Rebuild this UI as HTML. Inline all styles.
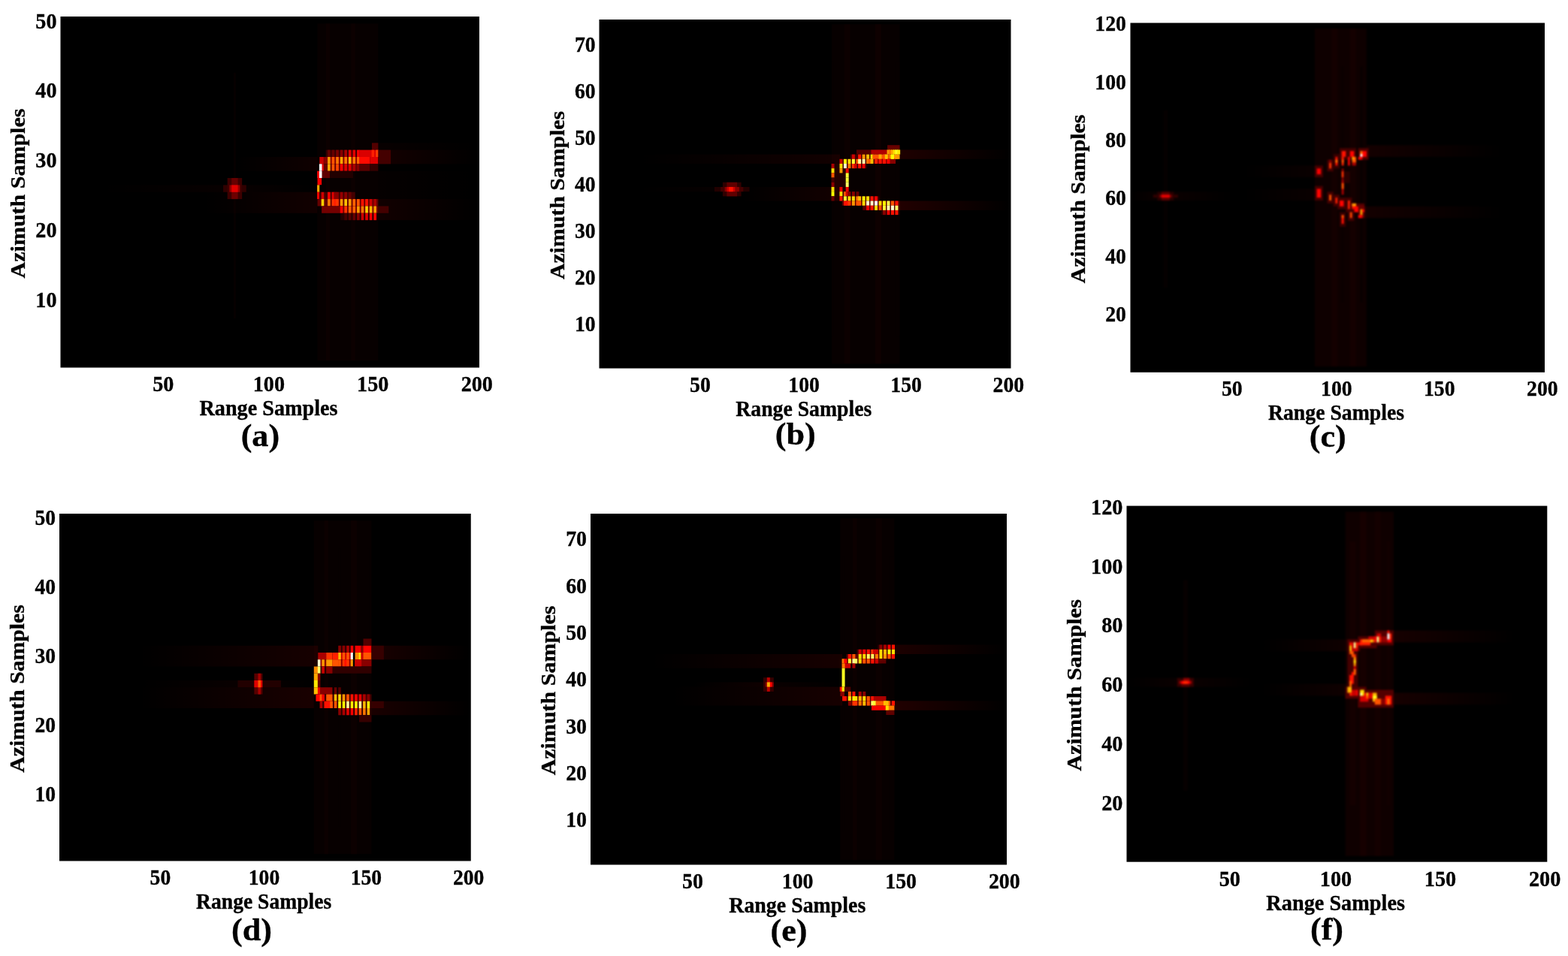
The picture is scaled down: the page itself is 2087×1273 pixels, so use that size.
<!DOCTYPE html>
<html lang="en"><head><meta charset="utf-8"><title>Figure</title>
<style>
html,body{margin:0;padding:0;background:#fff;}
body{width:2087px;height:1273px;overflow:hidden;}
svg{display:block;}
text{font-family:"Liberation Serif", "DejaVu Serif", serif;font-weight:bold;fill:#000;stroke:#000;stroke-width:0.35px;}
.p{font-size:42.5px;}
</style></head><body>
<svg width="2087" height="1273" viewBox="0 0 2087 1273">
<defs><filter id="soft-a" x="-3%" y="-3%" width="106%" height="106%"><feGaussianBlur stdDeviation="0.75" color-interpolation-filters="sRGB"/></filter><filter id="soft-b" x="-3%" y="-3%" width="106%" height="106%"><feGaussianBlur stdDeviation="0.7" color-interpolation-filters="sRGB"/></filter><filter id="soft-c" x="-3%" y="-3%" width="106%" height="106%"><feGaussianBlur stdDeviation="0.95" color-interpolation-filters="sRGB"/></filter><filter id="soft-d" x="-3%" y="-3%" width="106%" height="106%"><feGaussianBlur stdDeviation="0.75" color-interpolation-filters="sRGB"/></filter><filter id="soft-e" x="-3%" y="-3%" width="106%" height="106%"><feGaussianBlur stdDeviation="0.7" color-interpolation-filters="sRGB"/></filter><filter id="soft-f" x="-3%" y="-3%" width="106%" height="106%"><feGaussianBlur stdDeviation="0.9" color-interpolation-filters="sRGB"/></filter><linearGradient id="fadeL" x1="0" y1="0" x2="1" y2="0"><stop offset="0" stop-color="#f00" stop-opacity="0"/><stop offset="1" stop-color="#f00" stop-opacity="1"/></linearGradient><linearGradient id="fadeR" x1="0" y1="0" x2="1" y2="0"><stop offset="0" stop-color="#f00" stop-opacity="1"/><stop offset="1" stop-color="#f00" stop-opacity="0"/></linearGradient><linearGradient id="fadeU" x1="0" y1="0" x2="0" y2="1"><stop offset="0" stop-color="#f00" stop-opacity="0"/><stop offset="1" stop-color="#f00" stop-opacity="1"/></linearGradient><linearGradient id="fadeD" x1="0" y1="0" x2="0" y2="1"><stop offset="0" stop-color="#f00" stop-opacity="1"/><stop offset="1" stop-color="#f00" stop-opacity="0"/></linearGradient></defs>
<rect x="0" y="0" width="2087" height="1273" fill="#fff"/>
<g id="panel-a" font-size="30">
<rect x="80.5" y="22" width="557.5" height="467.5" fill="#000"/>
<clipPath id="clip-a"><rect x="80.5" y="22" width="557.5" height="467.5"/></clipPath>
<g clip-path="url(#clip-a)"><g filter="url(#soft-a)">
<rect x="422.53" y="78.1" width="5.58" height="364.65" fill="#0a0000"/>
<rect x="311.03" y="96.8" width="2.79" height="327.25" fill="#070000"/>
<rect x="132.63" y="246.4" width="170.04" height="9.35" fill="url(#fadeL)" opacity="0.03"/>
<rect x="322.18" y="246.4" width="100.35" height="9.35" fill="url(#fadeR)" opacity="0.03"/>
<rect x="272" y="255.75" width="150.53" height="28.05" fill="url(#fadeL)" opacity="0.07"/>
<rect x="313.81" y="209" width="108.71" height="18.7" fill="url(#fadeL)" opacity="0.06"/>
<rect x="503.36" y="199.65" width="133.8" height="18.7" fill="url(#fadeR)" opacity="0.08"/>
<rect x="503.36" y="190.3" width="133.8" height="9.35" fill="url(#fadeR)" opacity="0.03"/>
<rect x="503.36" y="265.1" width="133.8" height="28.05" fill="url(#fadeR)" opacity="0.07"/>
<rect x="428.1" y="227.7" width="209.06" height="37.4" fill="url(#fadeR)" opacity="0.03"/>
<rect x="422.53" y="31.35" width="80.84" height="448.8" fill="#070000"/>
<rect x="433.68" y="31.35" width="5.58" height="448.8" fill="#0c0000"/>
<rect x="467.13" y="31.35" width="5.58" height="448.8" fill="#0c0000"/>
<rect x="297.09" y="246.4" width="30.66" height="9.35" fill="#300000"/>
<rect x="302.66" y="237.05" width="19.51" height="28.05" fill="#3d0000"/>
<rect x="308.24" y="237.05" width="8.36" height="9.35" fill="#660000"/>
<rect x="308.24" y="255.75" width="8.36" height="9.35" fill="#6d0000"/>
<rect x="305.45" y="246.4" width="13.94" height="9.35" fill="#960000"/>
<rect x="308.24" y="246.4" width="8.36" height="9.35" fill="#e00000"/>
<rect x="495" y="190.3" width="8.36" height="9.35" fill="#520000"/>
<rect x="433.68" y="199.65" width="44.6" height="9.35" fill="#360000"/>
<rect x="436.05" y="199.65" width="3.62" height="9.35" fill="#660000"/>
<rect x="441.62" y="199.65" width="3.62" height="9.35" fill="#660000"/>
<rect x="447.2" y="199.65" width="3.62" height="9.35" fill="#7a0000"/>
<rect x="452.77" y="199.65" width="3.62" height="9.35" fill="#880000"/>
<rect x="458.35" y="199.65" width="3.62" height="9.35" fill="#aa0000"/>
<rect x="463.92" y="199.65" width="3.62" height="9.35" fill="#e00000"/>
<rect x="469.5" y="199.65" width="3.62" height="9.35" fill="#e00000"/>
<rect x="475.07" y="199.65" width="3.62" height="9.35" fill="#f50000"/>
<rect x="478.28" y="199.65" width="25.09" height="9.35" fill="#da0000"/>
<rect x="494.58" y="199.65" width="3.62" height="9.35" fill="#ff1f00"/>
<rect x="500.16" y="199.65" width="3.62" height="9.35" fill="#ff3a00"/>
<rect x="503.36" y="199.65" width="16.73" height="9.35" fill="#440000"/>
<rect x="425.31" y="209" width="5.58" height="9.35" fill="#cc0000"/>
<rect x="430.89" y="209" width="47.39" height="9.35" fill="#880000"/>
<rect x="436.05" y="209" width="3.62" height="9.35" fill="#ff9900"/>
<rect x="441.62" y="209" width="3.62" height="9.35" fill="#ff5500"/>
<rect x="447.2" y="209" width="3.62" height="9.35" fill="#ff7700"/>
<rect x="452.77" y="209" width="3.62" height="9.35" fill="#ffa700"/>
<rect x="458.35" y="209" width="3.62" height="9.35" fill="#ff7700"/>
<rect x="463.92" y="209" width="3.62" height="9.35" fill="#ffbb00"/>
<rect x="469.5" y="209" width="3.62" height="9.35" fill="#ff7700"/>
<rect x="475.07" y="209" width="3.62" height="9.35" fill="#ff6300"/>
<rect x="478.28" y="209" width="13.94" height="9.35" fill="#ff0a00"/>
<rect x="492.21" y="209" width="11.15" height="9.35" fill="#e00000"/>
<rect x="503.36" y="209" width="16.73" height="9.35" fill="#440000"/>
<rect x="427.68" y="218.35" width="3.62" height="9.35" fill="#e00000"/>
<rect x="430.89" y="218.35" width="47.39" height="9.35" fill="#660000"/>
<rect x="436.05" y="218.35" width="3.62" height="9.35" fill="#ffa700"/>
<rect x="441.62" y="218.35" width="3.62" height="9.35" fill="#ff5500"/>
<rect x="447.2" y="218.35" width="3.62" height="9.35" fill="#ff4700"/>
<rect x="452.77" y="218.35" width="3.62" height="9.35" fill="#ff0300"/>
<rect x="458.35" y="218.35" width="3.62" height="9.35" fill="#e00000"/>
<rect x="463.92" y="218.35" width="3.62" height="9.35" fill="#e00000"/>
<rect x="469.5" y="218.35" width="3.62" height="9.35" fill="#aa0000"/>
<rect x="475.07" y="218.35" width="3.62" height="9.35" fill="#880000"/>
<rect x="478.28" y="218.35" width="13.94" height="9.35" fill="#580000"/>
<rect x="492.21" y="218.35" width="11.15" height="9.35" fill="#360000"/>
<rect x="424.9" y="218.35" width="3.62" height="9.35" fill="#ffffff"/>
<rect x="428.1" y="227.7" width="11.15" height="9.35" fill="#5f0000"/>
<rect x="439.25" y="227.7" width="30.66" height="9.35" fill="#220000"/>
<rect x="422.11" y="227.7" width="3.62" height="9.35" fill="#f50000"/>
<rect x="424.9" y="227.7" width="3.62" height="9.35" fill="#ffffff"/>
<rect x="422.53" y="237.05" width="5.58" height="9.35" fill="#f50000"/>
<rect x="422.11" y="246.4" width="3.62" height="9.35" fill="#ffa700"/>
<rect x="425.31" y="246.4" width="2.79" height="9.35" fill="#000000"/>
<rect x="430.89" y="255.75" width="41.81" height="9.35" fill="#440000"/>
<rect x="422.11" y="255.75" width="3.62" height="9.35" fill="#ff0300"/>
<rect x="424.9" y="255.75" width="3.62" height="9.35" fill="#440000"/>
<rect x="427.68" y="255.75" width="3.62" height="9.35" fill="#cc0000"/>
<rect x="436.05" y="255.75" width="3.62" height="9.35" fill="#f50000"/>
<rect x="441.62" y="255.75" width="3.62" height="9.35" fill="#e00000"/>
<rect x="444.41" y="255.75" width="3.62" height="9.35" fill="#880000"/>
<rect x="447.2" y="255.75" width="3.62" height="9.35" fill="#880000"/>
<rect x="452.77" y="255.75" width="3.62" height="9.35" fill="#960000"/>
<rect x="458.35" y="255.75" width="3.62" height="9.35" fill="#880000"/>
<rect x="463.92" y="255.75" width="3.62" height="9.35" fill="#660000"/>
<rect x="422.53" y="265.1" width="80.84" height="9.35" fill="#660000"/>
<rect x="427.68" y="265.1" width="3.62" height="9.35" fill="#ffcf00"/>
<rect x="436.05" y="265.1" width="3.62" height="9.35" fill="#ff7700"/>
<rect x="441.62" y="265.1" width="3.62" height="9.35" fill="#ff3300"/>
<rect x="444.41" y="265.1" width="3.62" height="9.35" fill="#ff1f00"/>
<rect x="447.2" y="265.1" width="3.62" height="9.35" fill="#ff3300"/>
<rect x="452.77" y="265.1" width="3.62" height="9.35" fill="#ff9900"/>
<rect x="458.35" y="265.1" width="3.62" height="9.35" fill="#ffc200"/>
<rect x="463.92" y="265.1" width="3.62" height="9.35" fill="#ff9900"/>
<rect x="469.5" y="265.1" width="3.62" height="9.35" fill="#ff6300"/>
<rect x="475.07" y="265.1" width="3.62" height="9.35" fill="#ff5500"/>
<rect x="480.65" y="265.1" width="3.62" height="9.35" fill="#ff1100"/>
<rect x="486.22" y="265.1" width="3.62" height="9.35" fill="#ff1100"/>
<rect x="491.8" y="265.1" width="3.62" height="9.35" fill="#cc0000"/>
<rect x="497.37" y="265.1" width="3.62" height="9.35" fill="#aa0000"/>
<rect x="428.1" y="274.45" width="75.26" height="9.35" fill="#740000"/>
<rect x="452.77" y="274.45" width="3.62" height="9.35" fill="#f50000"/>
<rect x="458.35" y="274.45" width="3.62" height="9.35" fill="#ff3300"/>
<rect x="463.92" y="274.45" width="3.62" height="9.35" fill="#ff6300"/>
<rect x="469.5" y="274.45" width="3.62" height="9.35" fill="#ff6300"/>
<rect x="475.07" y="274.45" width="3.62" height="9.35" fill="#ff9900"/>
<rect x="480.65" y="274.45" width="3.62" height="9.35" fill="#ff7700"/>
<rect x="486.22" y="274.45" width="3.62" height="9.35" fill="#ffcf00"/>
<rect x="491.8" y="274.45" width="3.62" height="9.35" fill="#ffb400"/>
<rect x="497.37" y="274.45" width="3.62" height="9.35" fill="#ff9900"/>
<rect x="503.36" y="274.45" width="13.94" height="9.35" fill="#440000"/>
<rect x="453.19" y="283.8" width="50.18" height="9.35" fill="#220000"/>
<rect x="458.35" y="283.8" width="3.62" height="9.35" fill="#440000"/>
<rect x="463.92" y="283.8" width="3.62" height="9.35" fill="#520000"/>
<rect x="469.5" y="283.8" width="3.62" height="9.35" fill="#660000"/>
<rect x="475.07" y="283.8" width="3.62" height="9.35" fill="#880000"/>
<rect x="480.65" y="283.8" width="3.62" height="9.35" fill="#cc0000"/>
<rect x="486.22" y="283.8" width="3.62" height="9.35" fill="#e00000"/>
<rect x="491.8" y="283.8" width="3.62" height="9.35" fill="#f50000"/>
<rect x="497.37" y="283.8" width="3.62" height="9.35" fill="#ff0300"/>
</g></g>
<text transform="translate(75.5 408.77) scale(0.94 1)" text-anchor="end">10</text>
<text transform="translate(75.5 315.97) scale(0.94 1)" text-anchor="end">20</text>
<text transform="translate(75.5 223.18) scale(0.94 1)" text-anchor="end">30</text>
<text transform="translate(75.5 130.38) scale(0.94 1)" text-anchor="end">40</text>
<text transform="translate(75.5 37.58) scale(0.94 1)" text-anchor="end">50</text>
<text transform="translate(217.28 520.9) scale(0.94 1)" text-anchor="middle">50</text>
<text transform="translate(357.86 520.9) scale(0.94 1)" text-anchor="middle">100</text>
<text transform="translate(496.23 520.9) scale(0.94 1)" text-anchor="middle">150</text>
<text transform="translate(634.81 520.9) scale(0.94 1)" text-anchor="middle">200</text>
<text transform="translate(357.5 553.2) scale(0.94 1)" text-anchor="middle">Range Samples</text>
<text class="p" transform="translate(346.4 594.1) scale(1.04 1)" text-anchor="middle">(a)</text>
<text transform="translate(33 257.5) rotate(-90) scale(1 0.94)" text-anchor="middle">Azimuth Samples</text>
</g>
<g id="panel-b" font-size="29.81">
<rect x="797.5" y="26" width="548" height="464.5" fill="#000"/>
<clipPath id="clip-b"><rect x="797.5" y="26" width="548" height="464.5"/></clipPath>
<g clip-path="url(#clip-b)"><g filter="url(#soft-b)">
<rect x="1107.12" y="32.19" width="90.42" height="452.11" fill="#070000"/>
<rect x="1123.56" y="32.19" width="8.22" height="452.11" fill="#0c0000"/>
<rect x="1164.66" y="32.19" width="8.22" height="452.11" fill="#0e0000"/>
<rect x="1107.12" y="81.74" width="2.74" height="365.41" fill="#070000"/>
<rect x="1192.06" y="81.74" width="5.48" height="365.41" fill="#070000"/>
<rect x="849.56" y="205.61" width="268.52" height="12.39" fill="url(#fadeL)" opacity="0.07"/>
<rect x="986.56" y="248.96" width="120.56" height="18.58" fill="url(#fadeL)" opacity="0.07"/>
<rect x="849.56" y="248.96" width="117.82" height="6.19" fill="url(#fadeL)" opacity="0.03"/>
<rect x="1197.54" y="199.41" width="147.96" height="12.39" fill="url(#fadeR)" opacity="0.12"/>
<rect x="1197.54" y="267.54" width="147.96" height="12.39" fill="url(#fadeR)" opacity="0.13"/>
<rect x="1109.86" y="217.99" width="16.44" height="49.55" fill="#220000"/>
<rect x="1181.1" y="193.22" width="16.44" height="6.19" fill="#660000"/>
<rect x="1159.18" y="199.41" width="21.92" height="6.19" fill="#b10000"/>
<rect x="1140" y="199.41" width="19.18" height="6.19" fill="#520000"/>
<rect x="1131.78" y="205.61" width="32.88" height="6.19" fill="#440000"/>
<rect x="1164.66" y="205.61" width="19.18" height="6.19" fill="#ff5500"/>
<rect x="1183.84" y="205.61" width="13.7" height="6.19" fill="#ff9900"/>
<rect x="1118.08" y="211.8" width="46.58" height="6.19" fill="#440000"/>
<rect x="1164.66" y="211.8" width="27.4" height="6.19" fill="#880000"/>
<rect x="1118.08" y="217.99" width="35.62" height="6.19" fill="#360000"/>
<rect x="1180.5" y="199.41" width="3.95" height="6.19" fill="#ff9900"/>
<rect x="1183.24" y="199.41" width="3.95" height="6.19" fill="#ff7700"/>
<rect x="1185.98" y="199.41" width="3.95" height="6.19" fill="#ffa700"/>
<rect x="1188.72" y="199.41" width="3.95" height="6.19" fill="#ffdd00"/>
<rect x="1191.46" y="199.41" width="3.95" height="6.19" fill="#ffff1f"/>
<rect x="1194.2" y="199.41" width="3.95" height="6.19" fill="#ffeb00"/>
<rect x="1133.92" y="205.61" width="3.95" height="6.19" fill="#cc0000"/>
<rect x="1142.14" y="205.61" width="3.95" height="6.19" fill="#ff1100"/>
<rect x="1147.62" y="205.61" width="3.95" height="6.19" fill="#ff9900"/>
<rect x="1153.1" y="205.61" width="3.95" height="6.19" fill="#ffbb00"/>
<rect x="1158.58" y="205.61" width="3.95" height="6.19" fill="#ffdd00"/>
<rect x="1161.32" y="205.61" width="3.95" height="6.19" fill="#ff5500"/>
<rect x="1169.54" y="205.61" width="3.95" height="6.19" fill="#ffa700"/>
<rect x="1175.02" y="205.61" width="3.95" height="6.19" fill="#ff5500"/>
<rect x="1177.76" y="205.61" width="3.95" height="6.19" fill="#ffc200"/>
<rect x="1185.98" y="205.61" width="3.95" height="6.19" fill="#ffff00"/>
<rect x="1191.46" y="205.61" width="3.95" height="6.19" fill="#ff9900"/>
<rect x="1117.48" y="211.8" width="3.95" height="6.19" fill="#cc0000"/>
<rect x="1122.96" y="211.8" width="3.95" height="6.19" fill="#ffff00"/>
<rect x="1128.44" y="211.8" width="3.95" height="6.19" fill="#ffdd00"/>
<rect x="1133.92" y="211.8" width="3.95" height="6.19" fill="#ffff33"/>
<rect x="1139.4" y="211.8" width="3.95" height="6.19" fill="#ff5500"/>
<rect x="1142.14" y="211.8" width="3.95" height="6.19" fill="#ffff99"/>
<rect x="1147.62" y="211.8" width="3.95" height="6.19" fill="#ffffad"/>
<rect x="1153.1" y="211.8" width="3.95" height="6.19" fill="#ff7700"/>
<rect x="1155.84" y="211.8" width="3.95" height="6.19" fill="#ff5500"/>
<rect x="1158.58" y="211.8" width="3.95" height="6.19" fill="#ffbb00"/>
<rect x="1164.06" y="211.8" width="3.95" height="6.19" fill="#ff1f00"/>
<rect x="1169.54" y="211.8" width="3.95" height="6.19" fill="#ff1100"/>
<rect x="1175.02" y="211.8" width="3.95" height="6.19" fill="#ff1100"/>
<rect x="1180.5" y="211.8" width="3.95" height="6.19" fill="#f50000"/>
<rect x="1106.52" y="217.99" width="3.95" height="6.19" fill="#aa0000"/>
<rect x="1117.48" y="217.99" width="3.95" height="6.19" fill="#ffdd00"/>
<rect x="1122.96" y="217.99" width="3.95" height="6.19" fill="#ffffcc"/>
<rect x="1128.44" y="217.99" width="3.95" height="6.19" fill="#ff7700"/>
<rect x="1133.92" y="217.99" width="3.95" height="6.19" fill="#ff3300"/>
<rect x="1136.66" y="217.99" width="3.95" height="6.19" fill="#cc0000"/>
<rect x="1142.14" y="217.99" width="3.95" height="6.19" fill="#ff1100"/>
<rect x="1147.62" y="217.99" width="3.95" height="6.19" fill="#ee0000"/>
<rect x="1106.52" y="224.19" width="3.95" height="6.19" fill="#ffdd00"/>
<rect x="1117.48" y="224.19" width="3.95" height="6.19" fill="#ff9900"/>
<rect x="1125.7" y="224.19" width="3.95" height="6.19" fill="#ee0000"/>
<rect x="1106.52" y="230.38" width="3.95" height="6.19" fill="#ff5500"/>
<rect x="1125.7" y="230.38" width="3.95" height="6.19" fill="#ffff33"/>
<rect x="1106.52" y="236.57" width="3.95" height="6.19" fill="#440000"/>
<rect x="1125.7" y="236.57" width="3.95" height="6.19" fill="#ffff33"/>
<rect x="1106.52" y="242.77" width="3.95" height="6.19" fill="#880000"/>
<rect x="1125.7" y="242.77" width="3.95" height="6.19" fill="#ffff66"/>
<rect x="1106.52" y="248.96" width="3.95" height="6.19" fill="#ffdd00"/>
<rect x="1117.48" y="248.96" width="3.95" height="6.19" fill="#ee0000"/>
<rect x="1125.7" y="248.96" width="3.95" height="6.19" fill="#ee0000"/>
<rect x="1106.52" y="255.15" width="3.95" height="6.19" fill="#ffff00"/>
<rect x="1117.48" y="255.15" width="3.95" height="6.19" fill="#ffdd00"/>
<rect x="1122.96" y="255.15" width="3.95" height="6.19" fill="#ff5500"/>
<rect x="1125.7" y="255.15" width="3.95" height="6.19" fill="#cc0000"/>
<rect x="1128.44" y="255.15" width="3.95" height="6.19" fill="#880000"/>
<rect x="1133.92" y="255.15" width="3.95" height="6.19" fill="#880000"/>
<rect x="1139.4" y="255.15" width="3.95" height="6.19" fill="#660000"/>
<rect x="1120.82" y="261.35" width="49.32" height="6.19" fill="#440000"/>
<rect x="1120.82" y="267.54" width="76.72" height="6.19" fill="#5f0000"/>
<rect x="1148.22" y="273.73" width="49.32" height="6.19" fill="#520000"/>
<rect x="1172.88" y="279.93" width="24.66" height="6.19" fill="#290000"/>
<rect x="1106.52" y="261.35" width="3.95" height="6.19" fill="#660000"/>
<rect x="1117.48" y="261.35" width="3.95" height="6.19" fill="#ff1100"/>
<rect x="1122.96" y="261.35" width="3.95" height="6.19" fill="#ffff33"/>
<rect x="1128.44" y="261.35" width="3.95" height="6.19" fill="#ffdd00"/>
<rect x="1133.92" y="261.35" width="3.95" height="6.19" fill="#ffdd00"/>
<rect x="1139.4" y="261.35" width="3.95" height="6.19" fill="#ff7700"/>
<rect x="1142.14" y="261.35" width="3.95" height="6.19" fill="#ffbb00"/>
<rect x="1147.62" y="261.35" width="3.95" height="6.19" fill="#ffff00"/>
<rect x="1153.1" y="261.35" width="3.95" height="6.19" fill="#ffdd00"/>
<rect x="1158.58" y="261.35" width="3.95" height="6.19" fill="#ff1100"/>
<rect x="1164.06" y="261.35" width="3.95" height="6.19" fill="#f50000"/>
<rect x="1122.96" y="267.54" width="3.95" height="6.19" fill="#ff1100"/>
<rect x="1125.7" y="267.54" width="3.95" height="6.19" fill="#ff1100"/>
<rect x="1128.44" y="267.54" width="3.95" height="6.19" fill="#ff3300"/>
<rect x="1133.92" y="267.54" width="3.95" height="6.19" fill="#ff9900"/>
<rect x="1139.4" y="267.54" width="3.95" height="6.19" fill="#ff5500"/>
<rect x="1142.14" y="267.54" width="3.95" height="6.19" fill="#ff5500"/>
<rect x="1147.62" y="267.54" width="3.95" height="6.19" fill="#ffdd00"/>
<rect x="1153.1" y="267.54" width="3.95" height="6.19" fill="#ffffcc"/>
<rect x="1158.58" y="267.54" width="3.95" height="6.19" fill="#ffffcc"/>
<rect x="1164.06" y="267.54" width="3.95" height="6.19" fill="#ffffff"/>
<rect x="1169.54" y="267.54" width="3.95" height="6.19" fill="#ffdd00"/>
<rect x="1175.02" y="267.54" width="3.95" height="6.19" fill="#ffff00"/>
<rect x="1180.5" y="267.54" width="3.95" height="6.19" fill="#ffff47"/>
<rect x="1185.98" y="267.54" width="3.95" height="6.19" fill="#ff5500"/>
<rect x="1191.46" y="267.54" width="3.95" height="6.19" fill="#ff1100"/>
<rect x="1153.1" y="273.73" width="3.95" height="6.19" fill="#ee0000"/>
<rect x="1158.58" y="273.73" width="3.95" height="6.19" fill="#ff1100"/>
<rect x="1164.06" y="273.73" width="3.95" height="6.19" fill="#ffdd00"/>
<rect x="1169.54" y="273.73" width="3.95" height="6.19" fill="#ff5500"/>
<rect x="1175.02" y="273.73" width="3.95" height="6.19" fill="#ffff33"/>
<rect x="1180.5" y="273.73" width="3.95" height="6.19" fill="#ffffad"/>
<rect x="1185.98" y="273.73" width="3.95" height="6.19" fill="#ffffcc"/>
<rect x="1191.46" y="273.73" width="3.95" height="6.19" fill="#ffff66"/>
<rect x="1175.02" y="279.93" width="3.95" height="6.19" fill="#880000"/>
<rect x="1180.5" y="279.93" width="3.95" height="6.19" fill="#ee0000"/>
<rect x="1185.98" y="279.93" width="3.95" height="6.19" fill="#ff1100"/>
<rect x="1191.46" y="279.93" width="3.95" height="6.19" fill="#ff1100"/>
<rect x="950.94" y="248.96" width="46.58" height="6.19" fill="#220000"/>
<rect x="961.9" y="242.77" width="24.66" height="18.58" fill="#300000"/>
<rect x="959.16" y="248.96" width="30.14" height="6.19" fill="#440000"/>
<rect x="967.38" y="242.77" width="13.7" height="18.58" fill="#5f0000"/>
<rect x="964.64" y="248.96" width="19.18" height="6.19" fill="#880000"/>
<rect x="967.38" y="248.96" width="10.96" height="6.19" fill="#cc0000"/>
<rect x="970.12" y="248.96" width="5.48" height="6.19" fill="#ff1100"/>
</g></g>
<text transform="translate(792.59 441.49) scale(0.93 1)" text-anchor="end">10</text>
<text transform="translate(792.59 379.41) scale(0.93 1)" text-anchor="end">20</text>
<text transform="translate(792.59 317.33) scale(0.93 1)" text-anchor="end">30</text>
<text transform="translate(792.59 255.24) scale(0.93 1)" text-anchor="end">40</text>
<text transform="translate(792.59 193.16) scale(0.93 1)" text-anchor="end">50</text>
<text transform="translate(792.59 131.08) scale(0.93 1)" text-anchor="end">60</text>
<text transform="translate(792.59 68.99) scale(0.93 1)" text-anchor="end">70</text>
<text transform="translate(931.95 521.7) scale(0.93 1)" text-anchor="middle">50</text>
<text transform="translate(1070.13 521.7) scale(0.93 1)" text-anchor="middle">100</text>
<text transform="translate(1206.15 521.7) scale(0.93 1)" text-anchor="middle">150</text>
<text transform="translate(1342.36 521.7) scale(0.93 1)" text-anchor="middle">200</text>
<text transform="translate(1069.78 553.79) scale(0.93 1)" text-anchor="middle">Range Samples</text>
<text class="p" transform="translate(1058.7 591.8) scale(1.04 1)" text-anchor="middle">(b)</text>
<text transform="translate(750.81 259.99) rotate(-90) scale(1 0.93)" text-anchor="middle">Azimuth Samples</text>
</g>
<g id="panel-c" font-size="29.86">
<rect x="1504.5" y="30.5" width="551.5" height="465.3" fill="#000"/>
<clipPath id="clip-c"><rect x="1504.5" y="30.5" width="551.5" height="465.3"/></clipPath>
<g clip-path="url(#clip-c)"><g filter="url(#soft-c)">
<rect x="1749.92" y="38.25" width="68.94" height="449.79" fill="#0e0000"/>
<rect x="1771.98" y="38.25" width="8.27" height="449.79" fill="#140000"/>
<rect x="1796.8" y="38.25" width="8.27" height="449.79" fill="#140000"/>
<rect x="1785.76" y="88.66" width="2.76" height="314.08" fill="#0a0000"/>
<rect x="1810.58" y="88.66" width="2.76" height="314.08" fill="#080000"/>
<rect x="1548.62" y="146.82" width="5.51" height="236.53" fill="#050000"/>
<rect x="1818.86" y="193.36" width="181.99" height="15.51" fill="url(#fadeR)" opacity="0.08"/>
<rect x="1816.1" y="274.78" width="184.75" height="15.51" fill="url(#fadeR)" opacity="0.08"/>
<rect x="1504.5" y="255.4" width="35.85" height="11.63" fill="url(#fadeL)" opacity="0.04"/>
<rect x="1562.41" y="255.4" width="79.97" height="11.63" fill="url(#fadeR)" opacity="0.04"/>
<rect x="1653.4" y="220.5" width="99.27" height="15.51" fill="url(#fadeL)" opacity="0.04"/>
<rect x="1653.4" y="251.52" width="99.27" height="15.51" fill="url(#fadeL)" opacity="0.04"/>
<rect x="1540.35" y="255.4" width="22.06" height="11.63" fill="#290000"/>
<rect x="1534.83" y="259.27" width="33.09" height="3.88" fill="#300000"/>
<rect x="1545.86" y="255.4" width="11.03" height="11.63" fill="#580000"/>
<rect x="1543.11" y="259.27" width="16.54" height="3.88" fill="#7a0000"/>
<rect x="1545.86" y="259.27" width="11.03" height="3.88" fill="#e70000"/>
<rect x="1749.92" y="220.5" width="11.03" height="15.51" fill="#440000"/>
<rect x="1752.67" y="224.38" width="5.51" height="7.75" fill="#f50000"/>
<rect x="1749.92" y="247.64" width="11.03" height="19.39" fill="#440000"/>
<rect x="1752.67" y="251.52" width="5.51" height="11.63" fill="#ff0300"/>
<rect x="1766.46" y="212.74" width="8.27" height="15.51" fill="#440000"/>
<rect x="1769.22" y="216.62" width="2.76" height="7.75" fill="#ff3300"/>
<rect x="1769.22" y="212.74" width="2.76" height="3.88" fill="#880000"/>
<rect x="1774.73" y="204.99" width="8.27" height="19.39" fill="#360000"/>
<rect x="1777.49" y="208.87" width="2.76" height="11.63" fill="#ff1100"/>
<rect x="1777.49" y="212.74" width="2.76" height="3.88" fill="#ff7700"/>
<rect x="1783.01" y="197.23" width="11.03" height="15.51" fill="#440000"/>
<rect x="1785.76" y="201.11" width="5.51" height="7.75" fill="#ff1100"/>
<rect x="1785.76" y="208.87" width="2.76" height="11.63" fill="#ff1f00"/>
<rect x="1785.76" y="212.74" width="2.76" height="3.88" fill="#ff5500"/>
<rect x="1794.04" y="197.23" width="11.03" height="15.51" fill="#440000"/>
<rect x="1796.8" y="201.11" width="5.51" height="7.75" fill="#ff0300"/>
<rect x="1794.04" y="208.87" width="2.76" height="11.63" fill="#ee0000"/>
<rect x="1799.55" y="208.87" width="5.51" height="7.75" fill="#ff5500"/>
<rect x="1799.55" y="208.87" width="2.76" height="3.88" fill="#ffa700"/>
<rect x="1799.55" y="216.62" width="5.51" height="3.88" fill="#aa0000"/>
<rect x="1807.83" y="197.23" width="13.79" height="15.51" fill="#520000"/>
<rect x="1810.58" y="201.11" width="8.27" height="7.75" fill="#ff0300"/>
<rect x="1810.58" y="201.11" width="2.76" height="3.88" fill="#ff7700"/>
<rect x="1810.58" y="204.99" width="2.76" height="3.88" fill="#ffffff"/>
<rect x="1807.83" y="208.87" width="5.51" height="3.88" fill="#f50000"/>
<rect x="1785.76" y="224.38" width="2.76" height="19.39" fill="#880000"/>
<rect x="1785.76" y="228.25" width="2.76" height="7.75" fill="#ff3300"/>
<rect x="1785.76" y="239.89" width="2.76" height="19.39" fill="#aa0000"/>
<rect x="1785.76" y="243.76" width="2.76" height="7.75" fill="#ff5500"/>
<rect x="1788.52" y="228.25" width="8.27" height="15.51" fill="#290000"/>
<rect x="1766.46" y="255.4" width="8.27" height="15.51" fill="#440000"/>
<rect x="1769.22" y="259.27" width="2.76" height="7.75" fill="#ff5500"/>
<rect x="1774.73" y="259.27" width="8.27" height="15.51" fill="#440000"/>
<rect x="1777.49" y="263.15" width="2.76" height="7.75" fill="#ff1f00"/>
<rect x="1780.25" y="263.15" width="11.03" height="15.51" fill="#440000"/>
<rect x="1783.01" y="267.03" width="5.51" height="7.75" fill="#ff0300"/>
<rect x="1791.28" y="263.15" width="8.27" height="19.39" fill="#440000"/>
<rect x="1794.04" y="267.03" width="2.76" height="11.63" fill="#ff1f00"/>
<rect x="1796.8" y="270.9" width="19.3" height="11.63" fill="#520000"/>
<rect x="1799.55" y="270.9" width="5.51" height="7.75" fill="#ff1100"/>
<rect x="1799.55" y="270.9" width="5.51" height="3.88" fill="#ff9900"/>
<rect x="1802.31" y="274.78" width="13.79" height="7.75" fill="#ff0300"/>
<rect x="1807.83" y="274.78" width="8.27" height="15.51" fill="#660000"/>
<rect x="1810.58" y="278.66" width="2.76" height="7.75" fill="#ffa700"/>
<rect x="1813.34" y="278.66" width="2.76" height="3.88" fill="#ff0300"/>
<rect x="1807.83" y="286.42" width="5.51" height="3.88" fill="#ff0300"/>
<rect x="1794.04" y="278.66" width="8.27" height="15.51" fill="#440000"/>
<rect x="1796.8" y="282.54" width="2.76" height="7.75" fill="#ff4700"/>
<rect x="1783.01" y="282.54" width="8.27" height="19.39" fill="#360000"/>
<rect x="1785.76" y="286.42" width="2.76" height="11.63" fill="#ff1100"/>
<rect x="1785.76" y="286.42" width="2.76" height="3.88" fill="#ff5500"/>
</g></g>
<text transform="translate(1498.95 428.14) scale(0.93 1)" text-anchor="end">20</text>
<text transform="translate(1498.95 350.79) scale(0.93 1)" text-anchor="end">40</text>
<text transform="translate(1498.95 273.44) scale(0.93 1)" text-anchor="end">60</text>
<text transform="translate(1498.95 196.09) scale(0.93 1)" text-anchor="end">80</text>
<text transform="translate(1498.95 118.74) scale(0.93 1)" text-anchor="end">100</text>
<text transform="translate(1498.95 41.39) scale(0.93 1)" text-anchor="end">120</text>
<text transform="translate(1639.81 527.05) scale(0.93 1)" text-anchor="middle">50</text>
<text transform="translate(1778.87 527.05) scale(0.93 1)" text-anchor="middle">100</text>
<text transform="translate(1915.76 527.05) scale(0.93 1)" text-anchor="middle">150</text>
<text transform="translate(2052.84 527.05) scale(0.93 1)" text-anchor="middle">200</text>
<text transform="translate(1778.52 559.2) scale(0.93 1)" text-anchor="middle">Range Samples</text>
<text class="p" transform="translate(1767.3 594.5) scale(1.04 1)" text-anchor="middle">(c)</text>
<text transform="translate(1443.51 264.89) rotate(-90) scale(1 0.93)" text-anchor="middle">Azimuth Samples</text>
</g>
<g id="panel-d" font-size="29.68">
<rect x="79" y="684" width="547.75" height="462.5" fill="#000"/>
<clipPath id="clip-d"><rect x="79" y="684" width="547.75" height="462.5"/></clipPath>
<g clip-path="url(#clip-d)"><g filter="url(#soft-d)">
<rect x="417.78" y="693.25" width="76.69" height="444" fill="#070000"/>
<rect x="431.48" y="693.25" width="5.48" height="444" fill="#0c0000"/>
<rect x="467.08" y="693.25" width="8.22" height="444" fill="#0c0000"/>
<rect x="450.65" y="730.25" width="2.74" height="370" fill="#070000"/>
<rect x="488.99" y="730.25" width="2.74" height="370" fill="#070000"/>
<rect x="184.99" y="906" width="153.37" height="9.25" fill="url(#fadeL)" opacity="0.04"/>
<rect x="349.31" y="906" width="68.47" height="9.25" fill="url(#fadeR)" opacity="0.03"/>
<rect x="184.99" y="859.75" width="238.27" height="27.75" fill="url(#fadeL)" opacity="0.09"/>
<rect x="184.99" y="915.25" width="232.79" height="27.75" fill="url(#fadeL)" opacity="0.1"/>
<rect x="494.47" y="859.75" width="131.46" height="18.5" fill="url(#fadeR)" opacity="0.1"/>
<rect x="494.47" y="933.75" width="131.46" height="18.5" fill="url(#fadeR)" opacity="0.1"/>
<rect x="316.45" y="906" width="57.51" height="9.25" fill="#220000"/>
<rect x="338.36" y="896.75" width="10.96" height="27.75" fill="#580000"/>
<rect x="343.43" y="896.75" width="3.56" height="27.75" fill="#a30000"/>
<rect x="338.36" y="906" width="10.96" height="9.25" fill="#e00000"/>
<rect x="343.43" y="906" width="3.56" height="9.25" fill="#ff5500"/>
<rect x="483.51" y="850.5" width="10.96" height="9.25" fill="#520000"/>
<rect x="450.65" y="859.75" width="21.91" height="9.25" fill="#290000"/>
<rect x="450.24" y="859.75" width="3.56" height="9.25" fill="#880000"/>
<rect x="455.72" y="859.75" width="3.56" height="9.25" fill="#880000"/>
<rect x="461.19" y="859.75" width="3.56" height="9.25" fill="#aa0000"/>
<rect x="466.67" y="859.75" width="3.56" height="9.25" fill="#f50000"/>
<rect x="472.56" y="859.75" width="8.22" height="9.25" fill="#f50000"/>
<rect x="480.36" y="859.75" width="3.56" height="9.25" fill="#880000"/>
<rect x="483.51" y="859.75" width="10.96" height="9.25" fill="#ff0300"/>
<rect x="494.47" y="859.75" width="16.43" height="9.25" fill="#360000"/>
<rect x="423.26" y="869" width="10.96" height="9.25" fill="#aa0000"/>
<rect x="434.22" y="869" width="8.22" height="9.25" fill="#ff3300"/>
<rect x="442.43" y="869" width="8.22" height="9.25" fill="#ff1f00"/>
<rect x="450.65" y="869" width="19.17" height="9.25" fill="#cc0000"/>
<rect x="450.24" y="869" width="3.56" height="9.25" fill="#ffbb00"/>
<rect x="455.72" y="869" width="3.56" height="9.25" fill="#ff5500"/>
<rect x="461.19" y="869" width="3.56" height="9.25" fill="#ff5500"/>
<rect x="466.67" y="869" width="3.56" height="9.25" fill="#ffffff"/>
<rect x="469.82" y="869" width="2.74" height="9.25" fill="#000000"/>
<rect x="472.56" y="869" width="8.22" height="9.25" fill="#ff8b00"/>
<rect x="477.63" y="869" width="3.56" height="9.25" fill="#ffdd00"/>
<rect x="480.36" y="869" width="3.56" height="9.25" fill="#cc0000"/>
<rect x="483.51" y="869" width="10.96" height="9.25" fill="#ff5500"/>
<rect x="494.47" y="869" width="16.43" height="9.25" fill="#360000"/>
<rect x="426" y="878.25" width="68.47" height="9.25" fill="#880000"/>
<rect x="422.85" y="878.25" width="3.56" height="9.25" fill="#ffffcc"/>
<rect x="428.33" y="878.25" width="3.56" height="9.25" fill="#ff9900"/>
<rect x="434.22" y="878.25" width="8.22" height="9.25" fill="#ff9900"/>
<rect x="442.43" y="878.25" width="8.22" height="9.25" fill="#ff5500"/>
<rect x="450.24" y="878.25" width="3.56" height="9.25" fill="#ff5500"/>
<rect x="455.72" y="878.25" width="3.56" height="9.25" fill="#ff3300"/>
<rect x="458.45" y="878.25" width="3.56" height="9.25" fill="#ff1100"/>
<rect x="461.19" y="878.25" width="3.56" height="9.25" fill="#ff3300"/>
<rect x="466.67" y="878.25" width="3.56" height="9.25" fill="#ff9900"/>
<rect x="469.82" y="878.25" width="2.74" height="9.25" fill="#000000"/>
<rect x="472.15" y="878.25" width="3.56" height="9.25" fill="#cc0000"/>
<rect x="474.89" y="878.25" width="3.56" height="9.25" fill="#cc0000"/>
<rect x="477.63" y="878.25" width="3.56" height="9.25" fill="#cc0000"/>
<rect x="426" y="887.5" width="68.47" height="9.25" fill="#300000"/>
<rect x="417.78" y="887.5" width="5.48" height="9.25" fill="#ff8b00"/>
<rect x="422.85" y="887.5" width="3.56" height="9.25" fill="#ffff66"/>
<rect x="428.33" y="887.5" width="3.56" height="9.25" fill="#cc0000"/>
<rect x="434.22" y="887.5" width="8.22" height="9.25" fill="#880000"/>
<rect x="417.78" y="896.75" width="5.48" height="9.25" fill="#ffa700"/>
<rect x="422.85" y="896.75" width="3.56" height="9.25" fill="#880000"/>
<rect x="417.78" y="906" width="5.48" height="9.25" fill="#ffeb00"/>
<rect x="422.85" y="906" width="3.56" height="9.25" fill="#660000"/>
<rect x="417.78" y="915.25" width="5.48" height="9.25" fill="#ffbb00"/>
<rect x="422.85" y="915.25" width="3.56" height="9.25" fill="#ee0000"/>
<rect x="426" y="915.25" width="16.43" height="9.25" fill="#880000"/>
<rect x="444.76" y="915.25" width="3.56" height="9.25" fill="#660000"/>
<rect x="450.24" y="915.25" width="3.56" height="9.25" fill="#520000"/>
<rect x="420.52" y="924.5" width="73.95" height="9.25" fill="#440000"/>
<rect x="420.52" y="924.5" width="5.48" height="9.25" fill="#ff0300"/>
<rect x="425.59" y="924.5" width="3.56" height="9.25" fill="#ff5500"/>
<rect x="428.33" y="924.5" width="3.56" height="9.25" fill="#f50000"/>
<rect x="434.22" y="924.5" width="8.22" height="9.25" fill="#ff5500"/>
<rect x="444.76" y="924.5" width="3.56" height="9.25" fill="#ffbb00"/>
<rect x="450.24" y="924.5" width="3.56" height="9.25" fill="#ffdd00"/>
<rect x="455.72" y="924.5" width="3.56" height="9.25" fill="#ff9900"/>
<rect x="461.19" y="924.5" width="3.56" height="9.25" fill="#ff5500"/>
<rect x="466.67" y="924.5" width="3.56" height="9.25" fill="#ff1100"/>
<rect x="472.15" y="924.5" width="3.56" height="9.25" fill="#ff0300"/>
<rect x="477.63" y="924.5" width="3.56" height="9.25" fill="#e00000"/>
<rect x="483.1" y="924.5" width="3.56" height="9.25" fill="#aa0000"/>
<rect x="488.58" y="924.5" width="3.56" height="9.25" fill="#880000"/>
<rect x="426" y="933.75" width="68.47" height="9.25" fill="#3d0000"/>
<rect x="425.59" y="933.75" width="3.56" height="9.25" fill="#aa0000"/>
<rect x="431.48" y="933.75" width="10.96" height="9.25" fill="#ff1100"/>
<rect x="439.28" y="933.75" width="3.56" height="9.25" fill="#ff5500"/>
<rect x="444.76" y="933.75" width="3.56" height="9.25" fill="#ff5500"/>
<rect x="450.24" y="933.75" width="3.56" height="9.25" fill="#ffff00"/>
<rect x="455.72" y="933.75" width="3.56" height="9.25" fill="#ffff00"/>
<rect x="461.19" y="933.75" width="3.56" height="9.25" fill="#ffff99"/>
<rect x="466.67" y="933.75" width="3.56" height="9.25" fill="#ffeb00"/>
<rect x="472.15" y="933.75" width="3.56" height="9.25" fill="#ffff00"/>
<rect x="477.63" y="933.75" width="3.56" height="9.25" fill="#ffff99"/>
<rect x="483.1" y="933.75" width="3.56" height="9.25" fill="#ffbb00"/>
<rect x="488.58" y="933.75" width="3.56" height="9.25" fill="#ffff00"/>
<rect x="494.47" y="933.75" width="16.43" height="9.25" fill="#360000"/>
<rect x="450.65" y="943" width="43.82" height="9.25" fill="#290000"/>
<rect x="450.24" y="943" width="3.56" height="9.25" fill="#880000"/>
<rect x="455.72" y="943" width="3.56" height="9.25" fill="#aa0000"/>
<rect x="461.19" y="943" width="3.56" height="9.25" fill="#e00000"/>
<rect x="466.67" y="943" width="3.56" height="9.25" fill="#f50000"/>
<rect x="472.15" y="943" width="3.56" height="9.25" fill="#ff1f00"/>
<rect x="477.63" y="943" width="3.56" height="9.25" fill="#ff5500"/>
<rect x="483.1" y="943" width="3.56" height="9.25" fill="#ff7700"/>
<rect x="488.58" y="943" width="3.56" height="9.25" fill="#ffa700"/>
<rect x="478.04" y="952.25" width="16.43" height="9.25" fill="#360000"/>
</g></g>
<text transform="translate(74.09 1067.11) scale(0.93 1)" text-anchor="end">10</text>
<text transform="translate(74.09 975.13) scale(0.93 1)" text-anchor="end">20</text>
<text transform="translate(74.09 883.16) scale(0.93 1)" text-anchor="end">30</text>
<text transform="translate(74.09 791.18) scale(0.93 1)" text-anchor="end">40</text>
<text transform="translate(74.09 699.21) scale(0.93 1)" text-anchor="end">50</text>
<text transform="translate(213.39 1177.56) scale(0.93 1)" text-anchor="middle">50</text>
<text transform="translate(351.51 1177.56) scale(0.93 1)" text-anchor="middle">100</text>
<text transform="translate(487.46 1177.56) scale(0.93 1)" text-anchor="middle">150</text>
<text transform="translate(623.61 1177.56) scale(0.93 1)" text-anchor="middle">200</text>
<text transform="translate(351.16 1209.52) scale(0.93 1)" text-anchor="middle">Range Samples</text>
<text class="p" transform="translate(335 1252) scale(1.04 1)" text-anchor="middle">(d)</text>
<text transform="translate(32.33 916.98) rotate(-90) scale(1 0.93)" text-anchor="middle">Azimuth Samples</text>
</g>
<g id="panel-e" font-size="30">
<rect x="786" y="684" width="554" height="467.5" fill="#000"/>
<clipPath id="clip-e"><rect x="786" y="684" width="554" height="467.5"/></clipPath>
<g clip-path="url(#clip-e)"><g filter="url(#soft-e)">
<rect x="1118.4" y="690.23" width="72.02" height="455.03" fill="#070000"/>
<rect x="1135.02" y="690.23" width="5.54" height="455.03" fill="#0c0000"/>
<rect x="1165.49" y="690.23" width="8.31" height="455.03" fill="#0c0000"/>
<rect x="1121.17" y="740.1" width="2.77" height="367.77" fill="#070000"/>
<rect x="1184.88" y="740.1" width="5.54" height="367.77" fill="#070000"/>
<rect x="866.33" y="871" width="254.84" height="18.7" fill="url(#fadeL)" opacity="0.09"/>
<rect x="894.03" y="914.63" width="227.14" height="24.93" fill="url(#fadeL)" opacity="0.09"/>
<rect x="1190.42" y="858.53" width="149.58" height="12.47" fill="url(#fadeR)" opacity="0.11"/>
<rect x="1190.42" y="933.33" width="149.58" height="12.47" fill="url(#fadeR)" opacity="0.13"/>
<rect x="1029.76" y="908.4" width="88.64" height="6.23" fill="url(#fadeR)" opacity="0.04"/>
<rect x="921.73" y="908.4" width="96.95" height="6.23" fill="url(#fadeL)" opacity="0.06"/>
<rect x="1015.91" y="902.17" width="13.85" height="18.7" fill="#360000"/>
<rect x="1020.84" y="902.17" width="3.99" height="18.7" fill="#b80000"/>
<rect x="1018.68" y="908.4" width="11.08" height="6.23" fill="#880000"/>
<rect x="1023.61" y="908.4" width="3.99" height="6.23" fill="#fc0000"/>
<rect x="1020.84" y="908.4" width="3.99" height="6.23" fill="#ffa700"/>
<rect x="1168.26" y="858.53" width="22.16" height="6.23" fill="#290000"/>
<rect x="1170.42" y="858.53" width="3.99" height="6.23" fill="#880000"/>
<rect x="1175.96" y="858.53" width="3.99" height="6.23" fill="#aa0000"/>
<rect x="1181.5" y="858.53" width="3.99" height="6.23" fill="#f50000"/>
<rect x="1187.04" y="858.53" width="3.99" height="6.23" fill="#ff1100"/>
<rect x="1140.56" y="864.77" width="49.86" height="6.23" fill="#440000"/>
<rect x="1142.72" y="864.77" width="3.99" height="6.23" fill="#cc0000"/>
<rect x="1148.26" y="864.77" width="3.99" height="6.23" fill="#ee0000"/>
<rect x="1153.8" y="864.77" width="3.99" height="6.23" fill="#ff1100"/>
<rect x="1159.34" y="864.77" width="3.99" height="6.23" fill="#ff3300"/>
<rect x="1162.11" y="864.77" width="3.99" height="6.23" fill="#cc0000"/>
<rect x="1164.88" y="864.77" width="3.99" height="6.23" fill="#cc0000"/>
<rect x="1170.42" y="864.77" width="3.99" height="6.23" fill="#ffdd00"/>
<rect x="1175.96" y="864.77" width="3.99" height="6.23" fill="#ffbb00"/>
<rect x="1181.5" y="864.77" width="3.99" height="6.23" fill="#ffff00"/>
<rect x="1187.04" y="864.77" width="3.99" height="6.23" fill="#ffdd00"/>
<rect x="1126.71" y="871" width="63.71" height="6.23" fill="#5f0000"/>
<rect x="1128.87" y="871" width="3.99" height="6.23" fill="#ff1100"/>
<rect x="1134.41" y="871" width="3.99" height="6.23" fill="#ff5500"/>
<rect x="1142.72" y="871" width="3.99" height="6.23" fill="#ffdd00"/>
<rect x="1148.26" y="871" width="3.99" height="6.23" fill="#ffdd00"/>
<rect x="1153.8" y="871" width="3.99" height="6.23" fill="#ffff66"/>
<rect x="1159.34" y="871" width="3.99" height="6.23" fill="#ffff66"/>
<rect x="1164.88" y="871" width="3.99" height="6.23" fill="#ff7700"/>
<rect x="1170.42" y="871" width="3.99" height="6.23" fill="#ffdd00"/>
<rect x="1175.96" y="871" width="3.99" height="6.23" fill="#ff9900"/>
<rect x="1181.5" y="871" width="3.99" height="6.23" fill="#ff5500"/>
<rect x="1187.04" y="871" width="3.99" height="6.23" fill="#ff1100"/>
<rect x="1121.17" y="877.23" width="58.17" height="6.23" fill="#5f0000"/>
<rect x="1120.56" y="877.23" width="3.99" height="6.23" fill="#ff7700"/>
<rect x="1123.33" y="877.23" width="3.99" height="6.23" fill="#ff0300"/>
<rect x="1128.87" y="877.23" width="3.99" height="6.23" fill="#ffff33"/>
<rect x="1134.41" y="877.23" width="3.99" height="6.23" fill="#ffff99"/>
<rect x="1137.18" y="877.23" width="3.99" height="6.23" fill="#ffff66"/>
<rect x="1142.72" y="877.23" width="3.99" height="6.23" fill="#ffdd00"/>
<rect x="1148.26" y="877.23" width="3.99" height="6.23" fill="#ff5500"/>
<rect x="1153.8" y="877.23" width="3.99" height="6.23" fill="#ff5500"/>
<rect x="1159.34" y="877.23" width="3.99" height="6.23" fill="#ff1100"/>
<rect x="1164.88" y="877.23" width="3.99" height="6.23" fill="#cc0000"/>
<rect x="1123.94" y="883.47" width="8.31" height="6.23" fill="#cc0000"/>
<rect x="1120.56" y="883.47" width="3.99" height="6.23" fill="#ff7700"/>
<rect x="1134.41" y="883.47" width="3.99" height="6.23" fill="#aa0000"/>
<rect x="1120.56" y="889.7" width="3.99" height="24.93" fill="#ffff1f"/>
<rect x="1117.79" y="914.63" width="3.99" height="6.23" fill="#ff1100"/>
<rect x="1120.56" y="914.63" width="3.99" height="6.23" fill="#ffdd00"/>
<rect x="1123.94" y="914.63" width="8.31" height="6.23" fill="#520000"/>
<rect x="1118.4" y="920.87" width="5.54" height="6.23" fill="#880000"/>
<rect x="1128.87" y="920.87" width="3.99" height="6.23" fill="#ff5500"/>
<rect x="1134.41" y="920.87" width="3.99" height="6.23" fill="#ff1100"/>
<rect x="1142.72" y="920.87" width="3.99" height="6.23" fill="#aa0000"/>
<rect x="1148.26" y="920.87" width="3.99" height="6.23" fill="#880000"/>
<rect x="1121.17" y="927.1" width="58.17" height="6.23" fill="#5f0000"/>
<rect x="1121.17" y="927.1" width="5.54" height="6.23" fill="#ff1100"/>
<rect x="1128.87" y="927.1" width="3.99" height="6.23" fill="#ffdd00"/>
<rect x="1134.41" y="927.1" width="3.99" height="6.23" fill="#ffff00"/>
<rect x="1137.18" y="927.1" width="3.99" height="6.23" fill="#ffdd00"/>
<rect x="1142.72" y="927.1" width="3.99" height="6.23" fill="#ffbb00"/>
<rect x="1148.26" y="927.1" width="3.99" height="6.23" fill="#ffdd00"/>
<rect x="1153.8" y="927.1" width="3.99" height="6.23" fill="#ff5500"/>
<rect x="1159.34" y="927.1" width="3.99" height="6.23" fill="#ff1100"/>
<rect x="1162.72" y="927.1" width="16.62" height="6.23" fill="#aa0000"/>
<rect x="1129.48" y="933.33" width="60.94" height="6.23" fill="#5f0000"/>
<rect x="1128.87" y="933.33" width="3.99" height="6.23" fill="#880000"/>
<rect x="1134.41" y="933.33" width="3.99" height="6.23" fill="#ff3300"/>
<rect x="1137.18" y="933.33" width="3.99" height="6.23" fill="#ff3300"/>
<rect x="1142.72" y="933.33" width="3.99" height="6.23" fill="#ff7700"/>
<rect x="1148.26" y="933.33" width="3.99" height="6.23" fill="#ffbb00"/>
<rect x="1153.8" y="933.33" width="3.99" height="6.23" fill="#ff5500"/>
<rect x="1159.34" y="933.33" width="3.99" height="6.23" fill="#ffff66"/>
<rect x="1162.11" y="933.33" width="3.99" height="6.23" fill="#ffff33"/>
<rect x="1165.49" y="933.33" width="19.39" height="6.23" fill="#ff5500"/>
<rect x="1175.96" y="933.33" width="3.99" height="6.23" fill="#ffbb00"/>
<rect x="1178.73" y="933.33" width="3.99" height="6.23" fill="#ffbb00"/>
<rect x="1187.04" y="933.33" width="3.99" height="6.23" fill="#ff1100"/>
<rect x="1159.95" y="939.57" width="19.39" height="6.23" fill="#f50000"/>
<rect x="1179.34" y="939.57" width="11.08" height="6.23" fill="#ff7700"/>
<rect x="1178.73" y="939.57" width="3.99" height="6.23" fill="#ffdd00"/>
<rect x="1179.34" y="945.8" width="11.08" height="6.23" fill="#5f0000"/>
</g></g>
<text transform="translate(781.03 1101.38) scale(0.93 1)" text-anchor="end">10</text>
<text transform="translate(781.03 1039.07) scale(0.93 1)" text-anchor="end">20</text>
<text transform="translate(781.03 976.75) scale(0.93 1)" text-anchor="end">30</text>
<text transform="translate(781.03 914.43) scale(0.93 1)" text-anchor="end">40</text>
<text transform="translate(781.03 852.12) scale(0.93 1)" text-anchor="end">50</text>
<text transform="translate(781.03 789.8) scale(0.93 1)" text-anchor="end">60</text>
<text transform="translate(781.03 727.48) scale(0.93 1)" text-anchor="end">70</text>
<text transform="translate(921.92 1182.9) scale(0.93 1)" text-anchor="middle">50</text>
<text transform="translate(1061.62 1182.9) scale(0.93 1)" text-anchor="middle">100</text>
<text transform="translate(1199.12 1182.9) scale(0.93 1)" text-anchor="middle">150</text>
<text transform="translate(1336.83 1182.9) scale(0.93 1)" text-anchor="middle">200</text>
<text transform="translate(1061.26 1215.2) scale(0.93 1)" text-anchor="middle">Range Samples</text>
<text class="p" transform="translate(1050 1253) scale(1.04 1)" text-anchor="middle">(e)</text>
<text transform="translate(738.8 919.5) rotate(-90) scale(1 0.93)" text-anchor="middle">Azimuth Samples</text>
</g>
<g id="panel-f" font-size="30.42">
<rect x="1499.5" y="673.6" width="559.8" height="474.1" fill="#000"/>
<clipPath id="clip-f"><rect x="1499.5" y="673.6" width="559.8" height="474.1"/></clipPath>
<g clip-path="url(#clip-f)"><g filter="url(#soft-f)">
<rect x="1790.6" y="681.5" width="64.38" height="458.3" fill="#0f0000"/>
<rect x="1810.19" y="681.5" width="8.4" height="458.3" fill="#160000"/>
<rect x="1829.78" y="681.5" width="8.4" height="458.3" fill="#140000"/>
<rect x="1796.19" y="721.01" width="8.4" height="351.62" fill="#140000"/>
<rect x="1846.58" y="721.01" width="2.8" height="351.62" fill="#140000"/>
<rect x="1575.07" y="772.37" width="5.6" height="280.51" fill="#070000"/>
<rect x="1852.17" y="839.54" width="165.14" height="15.8" fill="url(#fadeR)" opacity="0.09"/>
<rect x="1852.17" y="922.5" width="165.14" height="15.8" fill="url(#fadeR)" opacity="0.09"/>
<rect x="1678.64" y="851.39" width="114.76" height="15.8" fill="url(#fadeL)" opacity="0.06"/>
<rect x="1678.64" y="910.65" width="114.76" height="15.8" fill="url(#fadeL)" opacity="0.06"/>
<rect x="1499.5" y="902.75" width="67.18" height="11.85" fill="url(#fadeL)" opacity="0.04"/>
<rect x="1589.07" y="902.75" width="78.37" height="11.85" fill="url(#fadeR)" opacity="0.04"/>
<rect x="1566.68" y="902.75" width="22.39" height="11.85" fill="#360000"/>
<rect x="1575.07" y="902.75" width="8.4" height="3.95" fill="#880000"/>
<rect x="1572.27" y="910.65" width="11.2" height="3.95" fill="#580000"/>
<rect x="1569.47" y="906.7" width="16.79" height="3.95" fill="#960000"/>
<rect x="1572.27" y="906.7" width="11.2" height="3.95" fill="#ff0300"/>
<rect x="1575.07" y="906.7" width="5.6" height="3.95" fill="#ff2500"/>
<rect x="1793.39" y="851.39" width="16.79" height="15.8" fill="#520000"/>
<rect x="1807.39" y="847.44" width="25.19" height="15.8" fill="#520000"/>
<rect x="1829.78" y="839.54" width="25.19" height="19.75" fill="#520000"/>
<rect x="1793.39" y="863.24" width="14" height="63.21" fill="#440000"/>
<rect x="1790.6" y="914.6" width="27.99" height="15.8" fill="#520000"/>
<rect x="1807.39" y="918.55" width="47.58" height="23.71" fill="#520000"/>
<rect x="1796.19" y="859.29" width="2.8" height="7.9" fill="#ffbb00"/>
<rect x="1796.19" y="855.34" width="2.8" height="3.95" fill="#ff1100"/>
<rect x="1798.99" y="855.34" width="2.8" height="11.85" fill="#cc0000"/>
<rect x="1801.79" y="855.34" width="2.8" height="7.9" fill="#ffff99"/>
<rect x="1801.79" y="863.24" width="5.6" height="3.95" fill="#cc0000"/>
<rect x="1804.59" y="855.34" width="2.8" height="7.9" fill="#ff1f00"/>
<rect x="1807.39" y="855.34" width="5.6" height="3.95" fill="#f50000"/>
<rect x="1810.19" y="851.39" width="14" height="7.9" fill="#ff1f00"/>
<rect x="1812.99" y="851.39" width="16.79" height="3.95" fill="#ff6300"/>
<rect x="1824.18" y="851.39" width="2.8" height="3.95" fill="#ffcf00"/>
<rect x="1821.39" y="847.44" width="11.2" height="3.95" fill="#cc0000"/>
<rect x="1829.78" y="847.44" width="2.8" height="7.9" fill="#f50000"/>
<rect x="1832.58" y="847.44" width="2.8" height="7.9" fill="#ffff99"/>
<rect x="1835.38" y="847.44" width="2.8" height="7.9" fill="#ff1f00"/>
<rect x="1832.58" y="843.49" width="5.6" height="3.95" fill="#cc0000"/>
<rect x="1838.18" y="847.44" width="8.4" height="7.9" fill="#960000"/>
<rect x="1846.58" y="851.39" width="5.6" height="3.95" fill="#f50000"/>
<rect x="1849.38" y="843.49" width="2.8" height="7.9" fill="#ff1f00"/>
<rect x="1846.58" y="839.54" width="2.8" height="3.95" fill="#ff1100"/>
<rect x="1846.58" y="843.49" width="2.8" height="7.9" fill="#ffffff"/>
<rect x="1796.19" y="867.19" width="2.8" height="3.95" fill="#ff6300"/>
<rect x="1798.99" y="867.19" width="2.8" height="7.9" fill="#ff5500"/>
<rect x="1801.79" y="871.14" width="2.8" height="7.9" fill="#ff3300"/>
<rect x="1801.79" y="875.09" width="2.8" height="11.85" fill="#ff9900"/>
<rect x="1801.79" y="879.04" width="2.8" height="3.95" fill="#ffdd00"/>
<rect x="1801.79" y="886.95" width="2.8" height="7.9" fill="#cc0000"/>
<rect x="1801.79" y="890.9" width="2.8" height="7.9" fill="#ff6300"/>
<rect x="1798.99" y="894.85" width="2.8" height="7.9" fill="#ff1100"/>
<rect x="1796.19" y="898.8" width="5.6" height="11.85" fill="#ff1100"/>
<rect x="1796.19" y="906.7" width="2.8" height="7.9" fill="#ff6300"/>
<rect x="1793.39" y="914.6" width="5.6" height="7.9" fill="#ffb400"/>
<rect x="1796.19" y="922.5" width="5.6" height="3.95" fill="#ff1f00"/>
<rect x="1798.99" y="918.55" width="5.6" height="7.9" fill="#cc0000"/>
<rect x="1804.59" y="918.55" width="2.8" height="7.9" fill="#f50000"/>
<rect x="1810.19" y="926.45" width="11.2" height="7.9" fill="#da0000"/>
<rect x="1810.19" y="918.55" width="5.6" height="7.9" fill="#ffdd00"/>
<rect x="1810.19" y="922.5" width="2.8" height="3.95" fill="#ffffad"/>
<rect x="1815.79" y="922.5" width="2.8" height="7.9" fill="#f50000"/>
<rect x="1818.59" y="922.5" width="2.8" height="7.9" fill="#ff6300"/>
<rect x="1818.59" y="922.5" width="2.8" height="3.95" fill="#ffc200"/>
<rect x="1821.39" y="922.5" width="5.6" height="7.9" fill="#e00000"/>
<rect x="1826.98" y="922.5" width="5.6" height="11.85" fill="#ffb400"/>
<rect x="1826.98" y="926.45" width="5.6" height="3.95" fill="#ffff1f"/>
<rect x="1829.78" y="930.4" width="8.4" height="7.9" fill="#ff5500"/>
<rect x="1838.18" y="930.4" width="5.6" height="7.9" fill="#880000"/>
<rect x="1843.78" y="926.45" width="8.4" height="11.85" fill="#ff1100"/>
<rect x="1846.58" y="930.4" width="2.8" height="7.9" fill="#ff7700"/>
</g></g>
<text transform="translate(1494.48 1078.61) scale(0.93 1)" text-anchor="end">20</text>
<text transform="translate(1494.48 999.84) scale(0.93 1)" text-anchor="end">40</text>
<text transform="translate(1494.48 921.06) scale(0.93 1)" text-anchor="end">60</text>
<text transform="translate(1494.48 842.28) scale(0.93 1)" text-anchor="end">80</text>
<text transform="translate(1494.48 763.51) scale(0.93 1)" text-anchor="end">100</text>
<text transform="translate(1494.48 684.73) scale(0.93 1)" text-anchor="end">120</text>
<text transform="translate(1636.85 1179.54) scale(0.93 1)" text-anchor="middle">50</text>
<text transform="translate(1778 1179.54) scale(0.93 1)" text-anchor="middle">100</text>
<text transform="translate(1916.95 1179.54) scale(0.93 1)" text-anchor="middle">150</text>
<text transform="translate(2056.09 1179.54) scale(0.93 1)" text-anchor="middle">200</text>
<text transform="translate(1777.64 1212.3) scale(0.93 1)" text-anchor="middle">Range Samples</text>
<text class="p" transform="translate(1766 1251) scale(1.04 1)" text-anchor="middle">(f)</text>
<text transform="translate(1438.8 912.42) rotate(-90) scale(1 0.93)" text-anchor="middle">Azimuth Samples</text>
</g>
</svg>
</body></html>
